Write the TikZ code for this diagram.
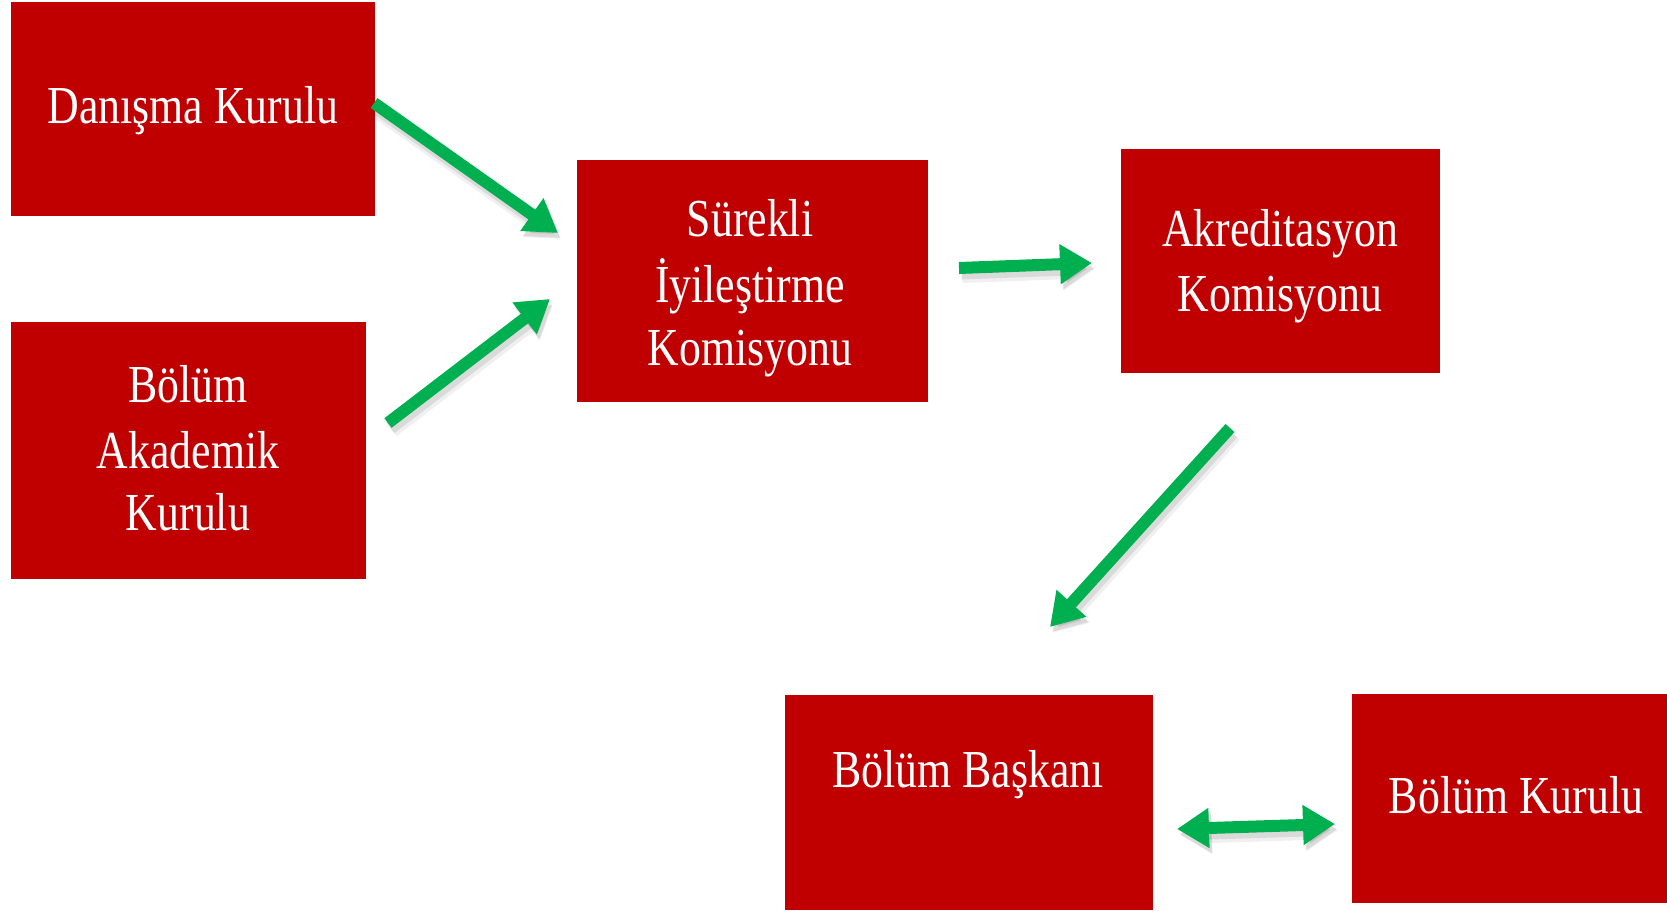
\documentclass[tikz,border=0pt]{standalone}
\usepackage{fontspec}
\setmainfont[FakeStretch=0.82]{Liberation Serif}
\usetikzlibrary{arrows.meta}
\definecolor{boxred}{RGB}{192,0,0}
\definecolor{arrgreen}{RGB}{0,176,80}
\begin{document}
\begin{tikzpicture}[x=0.5pt,y=-0.5pt,
  box/.style={fill=boxred, draw=none, inner sep=0pt, outer sep=0pt, anchor=north west},
  txt/.style={text=white, anchor=base, inner sep=0pt, font=\fontsize{26.7pt}{32pt}\selectfont},
  garrow/.style={draw=arrgreen, line width=6pt,
    preaction={draw=black, opacity=0.06, line width=9pt, transform canvas={shift={(1.5pt,-3pt)}}},
    preaction={draw=black, opacity=0.09, line width=6.5pt, transform canvas={shift={(1.2pt,-2.5pt)}}}},
  onetip/.style={-{Triangle[width=19pt,length=16pt]}},
  twotip/.style={{Triangle[width=19pt,length=16pt]}-{Triangle[width=19pt,length=16pt]}}]
\useasboundingbox (0,0) rectangle (1667,911);
% boxes
\node[box, minimum width=182pt, minimum height=107pt] (dk) at (11,2) {};
\node[box, minimum width=177.5pt, minimum height=128.5pt] (bak) at (11,322) {};
\node[box, minimum width=175.5pt, minimum height=121pt] (sik) at (577,160) {};
\node[box, minimum width=159.5pt, minimum height=112pt] (ak) at (1121,149) {};
\node[box, minimum width=184pt, minimum height=107.5pt] (bb) at (785,695) {};
\node[box, minimum width=157.5pt, minimum height=104.5pt] (bk) at (1352,694) {};
% texts
\node[txt] (dkt) at (193,123) {Danışma Kurulu};
\node[txt] (bak1) at (188,402) {Bölüm};
\node[txt] (bak2) at (188,468) {Akademik};
\node[txt] (bak3) at (188,530) {Kurulu};
\node[txt] (sik1) at (750,236) {Sürekli};
\node[txt] (sik2) at (750,302) {İyileştirme};
\node[txt] (sik3) at (750,365) {Komisyonu};
\node[txt] (ak1) at (1280,246) {Akreditasyon};
\node[txt] (ak2) at (1280,311) {Komisyonu};
\node[txt] (bbt) at (968,787) {Bölüm Başkanı};
\node[txt] (bkt) at (1516,813) {Bölüm Kurulu};
% arrow ends
\coordinate (a1s) at (374,103);
\coordinate (a1e) at (558,233);
\coordinate (a2s) at (388,423);
\coordinate (a2e) at (550,299);
\coordinate (a3s) at (959,268);
\coordinate (a3e) at (1092,263);
\coordinate (a4s) at (1230,428);
\coordinate (a4e) at (1050,627);
\coordinate (a5s) at (1177,829);
\coordinate (a5e) at (1335,824);
% arrows
\draw[garrow, onetip] (a1s) -- (a1e);
\draw[garrow, onetip] (a2s) -- (a2e);
\draw[garrow, onetip] (a3s) -- (a3e);
\draw[garrow, onetip] (a4s) -- (a4e);
\draw[garrow, twotip] (a5s) -- (a5e);
\end{tikzpicture}
\end{document}
